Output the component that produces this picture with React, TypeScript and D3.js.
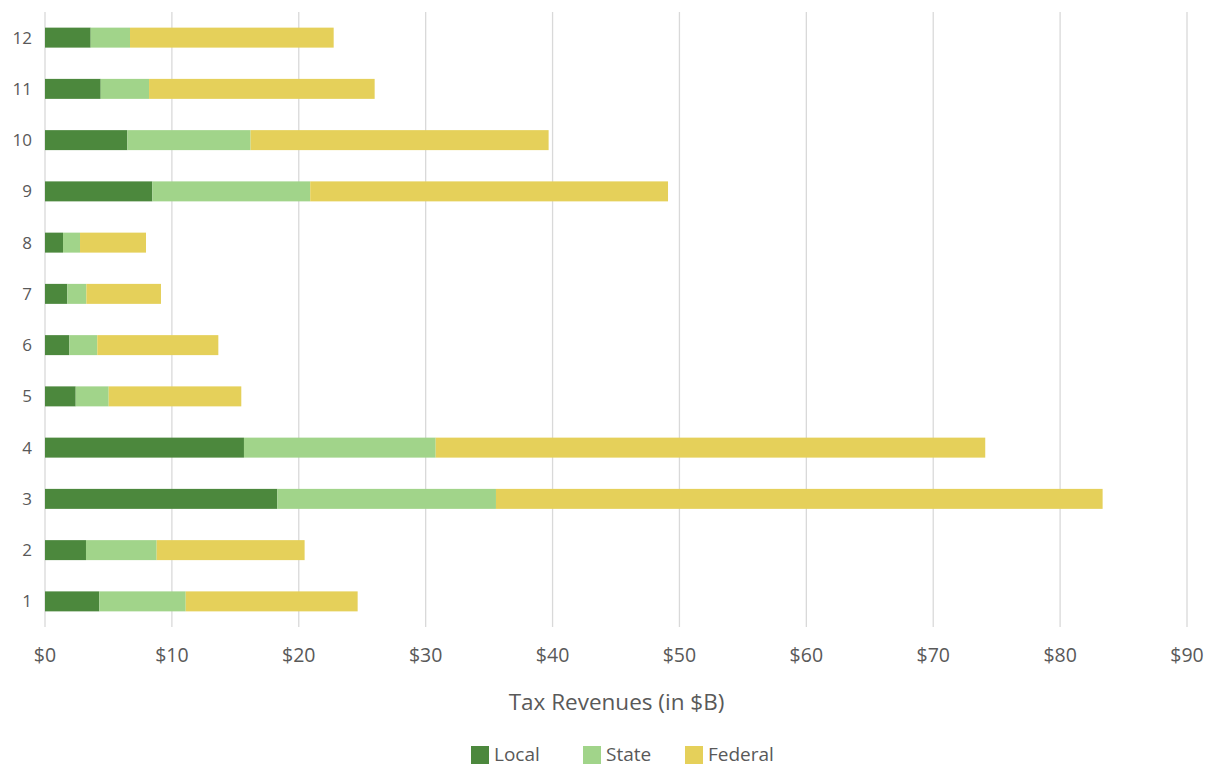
import React from "react";
import * as d3 from "d3";

const categories = ["1", "2", "3", "4", "5", "6", "7", "8", "9", "10", "11", "12"];
const local = [4.28, 3.23, 18.31, 15.68, 2.42, 1.92, 1.76, 1.42, 8.46, 6.49, 4.39, 3.6];
const state = [6.81, 5.57, 17.23, 15.11, 2.6, 2.2, 1.5, 1.34, 12.44, 9.71, 3.81, 3.1];
const federal = [13.55, 11.66, 47.81, 43.31, 10.45, 9.54, 5.88, 5.2, 28.2, 23.49, 17.78, 16.05];
const xTicks = [0, 10, 20, 30, 40, 50, 60, 70, 80, 90];
const seriesNames = ["Local", "State", "Federal"];
const colors = ["#4C883D", "#A1D48A", "#E5D05A"];

export default function App() {
  const W = 1207, H = 768;
  const left = 45, right = 1187, top = 12, bottom = 627;
  const x = d3.scaleLinear().domain([0, 90]).range([left, right]);
  const y = d3.scaleBand().domain([...categories].reverse()).range([top, bottom]).paddingInner(0.61).paddingOuter(0.305);
  const rows = categories.map((c, i) => ({ c, Local: local[i], State: state[i], Federal: federal[i] }));
  const stacked = d3.stack<any>().keys(seriesNames)(rows);
  const font = "'Segoe UI', 'Open Sans', sans-serif";
  const textColor = "#595959";
  const legendX = [471, 583, 685];
  return (
    <svg width={W} height={H} style={{ position: "absolute", left: 0, top: 0, background: "#fff" }} fontFamily={font}>
      {xTicks.map(t => (
        <line key={t} x1={x(t)} x2={x(t)} y1={top} y2={bottom} stroke="#d9d9d9" strokeWidth={1.3} />
      ))}
      {stacked.map((s, si) => (
        <g key={si} fill={colors[si]}>
          {s.map((d, i) => (
            <rect key={i} x={x(d[0])} width={x(d[1]) - x(d[0])} y={y(categories[i])} height={y.bandwidth()} />
          ))}
        </g>
      ))}
      {categories.map(c => (
        <text key={c} x={32} y={(y(c) as number) + y.bandwidth() / 2} dy="0.35em" textAnchor="end" fontSize={17} fill={textColor}>{c}</text>
      ))}
      {xTicks.map(t => (
        <text key={t} x={x(t)} y={655} dy="0.35em" textAnchor="middle" fontSize={19.5} fill={textColor}>{"$" + t}</text>
      ))}
      <text x={616.5} y={702} dy="0.35em" textAnchor="middle" fontSize={22.5} fill={textColor}>Tax Revenues (in $B)</text>
      {seriesNames.map((n, i) => (
        <g key={n}>
          <rect x={legendX[i]} y={746} width={18} height={18} fill={colors[i]} />
          <text x={legendX[i] + 23} y={754} dy="0.35em" fontSize={19} fill={textColor}>{n}</text>
        </g>
      ))}
    </svg>
  );
}
